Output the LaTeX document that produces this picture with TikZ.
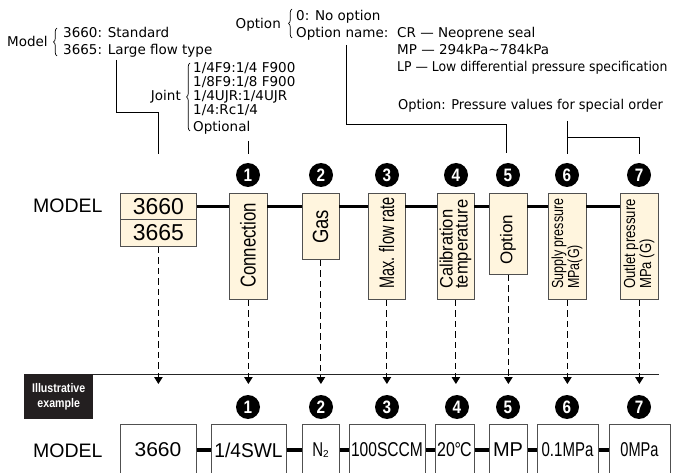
\documentclass[tikz,border=0pt]{standalone}
\usepackage{graphicx}
\usepackage{fontspec}
\setmainfont{Liberation Sans}
\newfontfamily\annfont{DejaVu Sans}
\usetikzlibrary{arrows.meta,decorations.pathreplacing}
\definecolor{cream}{RGB}{255,245,222}
\definecolor{boxline}{RGB}{80,80,80}
\definecolor{darkbox}{RGB}{35,31,32}
\newcommand{\myfs}[1]{\fontsize{#1}{#1}\selectfont}
\newcommand{\hs}[2]{\scalebox{#1}[1]{#2}}
\begin{document}
\begin{tikzpicture}[x=1pt,y=-1pt,
  ann/.style={font=\annfont\myfs{13.5}, inner sep=0pt, anchor=base west},
  annr/.style={font=\annfont\myfs{13.5}, inner sep=0pt, anchor=base east},
  topbox/.style={draw=boxline, fill=cream, line width=0.8pt, inner sep=0pt, anchor=north west},
  botbox/.style={draw=boxline, fill=white, line width=0.8pt, inner sep=0pt, anchor=north west, minimum height=54pt},
  vlabel/.style={rotate=90, inner sep=0pt, align=left},
  num/.style={circle, fill=black, minimum size=24pt, inner sep=0pt, text=white, font=\bfseries\myfs{18}},
  leader/.style={line width=0.8pt},
  heavy/.style={line width=3.5pt},
  dashconn/.style={line width=0.9pt, dash pattern=on 6.5pt off 4pt, -{Triangle[width=8.5pt,length=7pt]}},
  brc/.style={decorate, decoration={brace, amplitude=3.5pt}, line width=0.7pt},
  btxt/.style={font=\myfs{20}, inner sep=0pt},
]
\useasboundingbox (0,0) rectangle (678,473);
\clip (0,0) rectangle (678,473);

% ---------- annotations ----------
\node[ann] (tModel) at (7,47) {Model};
\draw[brc] (57,56) -- (57,28);
\node[ann] (t3660) at (63,38) {3660: Standard};
\node[ann] (t3665) at (63,55) {3665: Large flow type};

\node[annr] (tJoint) at (181,101) {Joint};
\draw[brc] (190,131) -- (190,63);
\node[ann] (j1) at (193,73) {1/4F9:1/4 F900};
\node[ann] (j2) at (193,87) {1/8F9:1/8 F900};
\node[ann] (j3) at (193,101) {1/4UJR:1/4UJR};
\node[ann] (j4) at (193,115) {1/4:Rc1/4};
\node[ann] (j5) at (193,132) {Optional};

\node[annr] (tOpt) at (281,29) {Option};
\draw[brc] (292,38) -- (292,9);
\node[ann] (o1) at (296,21) {0: No option};
\node[ann] (o2) at (296,38) {Option name:};
\node[ann] (o3) at (397,38) {CR — Neoprene seal};
\node[ann] (o4) at (397,55) {MP — 294kPa\char"223C 784kPa};
\node[ann, font=\annfont\fontsize{13.5}{13.5}\selectfont] (o5) at (397,72) {\hs{0.92}{LP — Low differential pressure specification}};
\node[ann] (tPress) at (398,110) {\hs{0.96}{Option: Pressure values for special order}};

% ---------- MODEL labels ----------
\node[font=\myfs{19.5}, inner sep=0pt, anchor=base west] (mTop) at (33,213) {MODEL};
\node[font=\myfs{19.5}, inner sep=0pt, anchor=base west] (mBot) at (33,457) {MODEL};

% ---------- top boxes ----------
\node[topbox, minimum width=76pt, minimum height=26pt, font=\myfs{23}] (b0a) at (120,193) {3660};
\node[topbox, minimum width=76pt, minimum height=27pt, font=\myfs{23}] (b0b) at (120,219) {3665};
\node[topbox, minimum width=38pt, minimum height=106pt] (b1) at (229,193) {};
\node[topbox, minimum width=37pt, minimum height=66pt] (b2) at (302,193) {};
\node[topbox, minimum width=37pt, minimum height=106pt] (b3) at (368,193) {};
\node[topbox, minimum width=37pt, minimum height=106pt] (b4) at (437,193) {};
\node[topbox, minimum width=38pt, minimum height=81pt] (b5) at (489,193) {};
\node[topbox, minimum width=38pt, minimum height=106pt] (b6) at (548,193) {};
\node[topbox, minimum width=38pt, minimum height=106pt] (b7) at (620,193) {};

\node[vlabel, anchor=west, font=\myfs{21.5}] (l1) at (248,288) {\hs{0.78}{Connection}};
\node[vlabel, font=\myfs{22}] (l2) at (320.5,227) {\hs{0.84}{Gas}};
\node[vlabel, anchor=west, font=\myfs{21}] (l3) at (386.5,289) {\hs{0.69}{Max. flow rate}};
\node[vlabel, anchor=west, font=\fontsize{18}{15}\selectfont] (l4) at (455.5,289) {\hs{0.92}{Calibration}\\\hs{0.92}{temperature}};
\node[vlabel, anchor=west, font=\myfs{17}] (l5) at (508,265) {Option};
\node[vlabel, anchor=west, font=\fontsize{16}{13.5}\selectfont] (l6) at (567,289) {\hs{0.78}{Supply pressure}\\\hs{0.78}{MPa(G)}};
\node[vlabel, anchor=west, font=\fontsize{16}{13.5}\selectfont] (l7) at (639,289) {\hs{0.82}{Outlet pressure}\\\hs{0.82}{MPa (G)}};

% thick line between top boxes
\draw[heavy] (b0a.east) -- (b1.west |- b0a.east);
\draw[heavy] (b1.west |- b0a.east) ++(38,0) -- (b2.west |- b0a.east);
\draw[heavy] (b2.west |- b0a.east) ++(37,0) -- (b3.west |- b0a.east);
\draw[heavy] (b3.west |- b0a.east) ++(37,0) -- (b4.west |- b0a.east);
\draw[heavy] (b4.west |- b0a.east) ++(37,0) -- (b5.west |- b0a.east);
\draw[heavy] (b5.west |- b0a.east) ++(38,0) -- (b6.west |- b0a.east);
\draw[heavy] (b6.west |- b0a.east) ++(38,0) -- (b7.west |- b0a.east);

% circled numbers (top)
\node[num] (n1) at (248,175) {\hs{0.85}{1}};
\node[num] (n2) at (321,175) {\hs{0.85}{2}};
\node[num] (n3) at (387,175) {\hs{0.85}{3}};
\node[num] (n4) at (456,175) {\hs{0.85}{4}};
\node[num] (n5) at (508,175) {\hs{0.85}{5}};
\node[num] (n6) at (567,175) {\hs{0.85}{6}};
\node[num] (n7) at (639,175) {\hs{0.85}{7}};

% leader lines from annotations
\coordinate (mA) at (116,60);
\coordinate (mB) at (158,154);
\draw[leader] (mA) |- (158,112) -- (mB);
\coordinate (jA) at (248,141);
\coordinate (jB) at (248,154);
\draw[leader] (jA) -- (jB);
\coordinate (oA) at (346,45);
\coordinate (oB) at (506,153);
\draw[leader] (oA) |- (506,124) -- (oB);
\coordinate (pA) at (567,121);
\coordinate (pB) at (567,154);
\coordinate (pC) at (639,154);
\draw[leader] (pA) -- (pB);
\draw[leader] (567,137) -| (pC);

% ---------- separator & example ----------
\node[fill=darkbox, minimum width=69pt, minimum height=45pt, anchor=north west, inner sep=0pt,
      text=white, font=\bfseries\fontsize{12.5}{15}\selectfont, align=center] (ill) at (24,374)
      {\hs{0.85}{Illustrative}\\\hs{0.85}{example}};
\coordinate (sepEnd) at (659,374);
\draw[line width=1pt, black!85] (ill.north east) -- (sepEnd);

% dashed arrows
\coordinate (ar) at (0,384);
\draw[dashconn] (b0b.south) -- (b0b.south |- ar);
\draw[dashconn] (b1.south) -- (b1.south |- ar);
\draw[dashconn] (b2.south) -- (b2.south |- ar);
\draw[dashconn] (b3.south) -- (b3.south |- ar);
\draw[dashconn] (b4.south) -- (b4.south |- ar);
\draw[dashconn] (b5.south) -- (b5.south |- ar);
\draw[dashconn] (b6.south) -- (b6.south |- ar);
\draw[dashconn] (b7.south) -- (b7.south |- ar);

% circled numbers (bottom)
\node[num] (m1) at (248,407) {\hs{0.85}{1}};
\node[num] (m2) at (321,407) {\hs{0.85}{2}};
\node[num] (m3) at (387,407) {\hs{0.85}{3}};
\node[num] (m4) at (457,407) {\hs{0.85}{4}};
\node[num] (m5) at (508,407) {\hs{0.85}{5}};
\node[num] (m6) at (567,407) {\hs{0.85}{6}};
\node[num] (m7) at (639,407) {\hs{0.85}{7}};

% ---------- bottom boxes ----------
\node[botbox, minimum width=76pt] (c0) at (120,424) {};
\node[botbox, minimum width=75pt] (c1) at (211,424) {};
\node[botbox, minimum width=37pt] (c2) at (302,424) {};
\node[botbox, minimum width=76pt] (c3) at (349,424) {};
\node[botbox, minimum width=39pt] (c4) at (435,424) {};
\node[botbox, minimum width=38pt] (c5) at (489,424) {};
\node[botbox, minimum width=61pt] (c6) at (537,424) {};
\node[botbox, minimum width=61pt] (c7) at (609,424) {};

\node[btxt] (e0) at (158,450) {\hs{1.05}{3660}};
\node[btxt] (e1) at (248.5,450) {\hs{0.96}{1/4SWL}};
\node[btxt] (e2) at (320.5,450) {\hs{0.75}{N}\raisebox{-0.5pt}{\myfs{10}2}};
\node[btxt] (e3) at (387,450) {\hs{0.78}{100SCCM}};
\node[btxt] (e4) at (454.5,450) {\hs{0.8}{20\kern-0.5pt°\kern-1ptC}};
\node[btxt] (e5) at (508,450) {MP};
\node[btxt] (e6) at (567.5,450) {\hs{0.75}{0.1MPa}};
\node[btxt] (e7) at (639.5,450) {\hs{0.73}{0MPa}};

\coordinate (yb) at (0,450);
\draw[heavy] (c0.east |- yb) -- (c1.west |- yb);
\draw[heavy] (c1.east |- yb) -- (c2.west |- yb);
\draw[heavy] (c2.east |- yb) -- (c3.west |- yb);
\draw[heavy] (c3.east |- yb) -- (c4.west |- yb);
\draw[heavy] (c4.east |- yb) -- (c5.west |- yb);
\draw[heavy] (c5.east |- yb) -- (c6.west |- yb);
\draw[heavy] (c6.east |- yb) -- (c7.west |- yb);
\end{tikzpicture}
\end{document}
